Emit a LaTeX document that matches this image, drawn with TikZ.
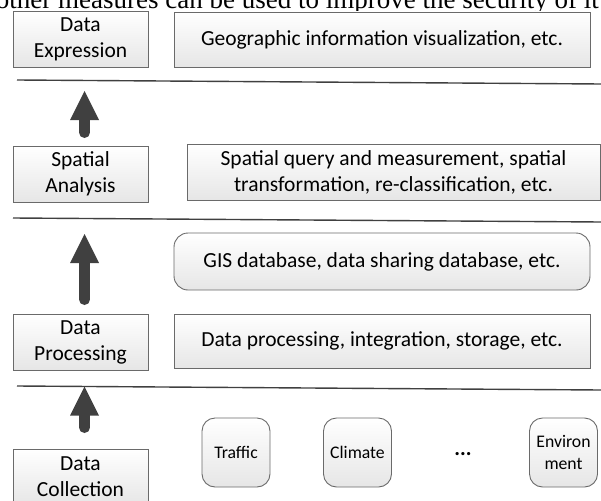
\documentclass[tikz,border=0pt]{standalone}
\usepackage{fontspec}
\setmainfont{Carlito}
\newfontfamily\serifpage{Liberation Serif}
\usetikzlibrary{arrows.meta}
\definecolor{boxline}{HTML}{6A6A6A}
\definecolor{arrowgray}{HTML}{404040}
\definecolor{sepline}{HTML}{404040}
\definecolor{boxbottom}{HTML}{E6E6E6}
\begin{document}
\begin{tikzpicture}[x=1pt,y=-1pt,
  box/.style={draw=boxline, line width=0.9pt, top color=white, bottom color=boxbottom,
    inner sep=0pt, align=center, font=\fontsize{21.5}{26}\selectfont},
  leftbox/.style={box, minimum width=135pt, minimum height=56pt},
  rbox/.style={box, rounded corners=14pt},
  smallbox/.style={box, rounded corners=13pt, minimum width=68pt, minimum height=69pt,
    font=\fontsize{17.7}{22.5}\selectfont},
  sepl/.style={draw=sepline, line width=1.4pt},
  bigarrow/.style={draw=arrowgray, line width=11pt, line cap=round,
    -{Triangle[width=29pt,length=29pt,line width=0pt]}}]
\useasboundingbox (0,0) rectangle (601,500);
% clipped text of the surrounding page
\node[anchor=base east, inner sep=0pt, font=\serifpage\fontsize{27}{32}\selectfont] (page) at (599,9)
  {other measures can be used to improve the security of it};
% layer 1
\node[leftbox] (de) at (80.5,39) {Data\\Expression};
\node[box, minimum width=416pt, minimum height=55pt] (geo) at (382,39.5) {Geographic information visualization, etc.};
% layer 2
\node[leftbox] (sa) at (80.5,174) {Spatial\\Analysis};
\node[box, minimum width=413pt, minimum height=56pt] (sq) at (393.5,172) {Spatial query and measurement, spatial\\transformation, re-classification, etc.};
% layer 3
\node[rbox, minimum width=416pt, minimum height=57pt] (gis) at (382,261.5) {GIS database, data sharing database, etc.};
\node[leftbox] (dp) at (80.5,342) {Data\\Processing};
\node[box, minimum width=416pt, minimum height=54pt] (dpt) at (382,341) {Data processing, integration, storage, etc.};
% layer 4
\node[leftbox] (dc) at (80.5,477) {Data\\Collection};
\node[smallbox] (traffic) at (236,452.5) {Traffic};
\node[smallbox] (climate) at (357.5,452.5) {Climate};
\node[anchor=base, inner sep=0pt, font=\bfseries\fontsize{21.5}{26}\selectfont] (dots) at (463,455) {...};
\node[smallbox] (env) at (563.5,452.5) {Environ\\ment};
% separator lines
\coordinate (l1a) at (17,80);  \coordinate (l1b) at (601,84);
\coordinate (l2a) at (13,218); \coordinate (l2b) at (601,222);
\coordinate (l3a) at (17,386); \coordinate (l3b) at (601,390);
\draw[sepl] (l1a) -- (l1b);
\draw[sepl] (l2a) -- (l2b);
\draw[sepl] (l3a) -- (l3b);
% arrows
\coordinate (a1s) at (84.5,132.5); \coordinate (a1e) at (84.5,91);
\coordinate (a2s) at (84.5,299.5); \coordinate (a2e) at (84.5,234);
\coordinate (a3s) at (84.5,427.5); \coordinate (a3e) at (84.5,386.5);
\draw[bigarrow] (a1s) -- (a1e);
\draw[bigarrow] (a2s) -- (a2e);
\draw[bigarrow] (a3s) -- (a3e);
\end{tikzpicture}
\end{document}
